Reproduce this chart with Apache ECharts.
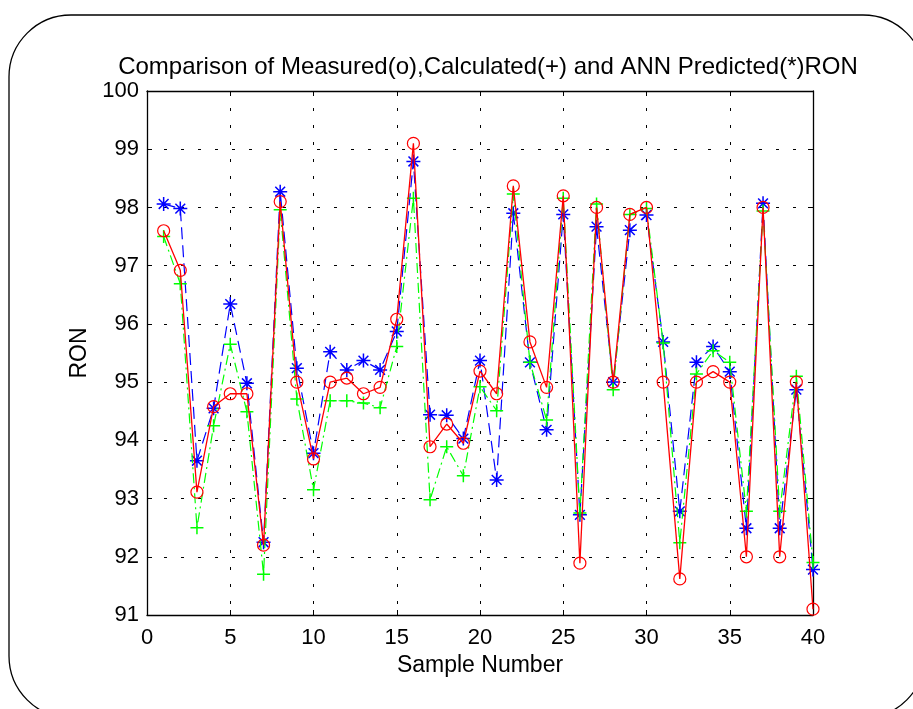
<!DOCTYPE html>
<html>
<head>
<meta charset="utf-8">
<script src="https://cdn.jsdelivr.net/npm/echarts@6/dist/echarts.min.js"></script>
<style>
html,body{margin:0;padding:0;background:#fff;}
#chart{width:913px;height:709px;}
</style>
</head>
<body>
<div id="chart"></div>
<script>
const sampleNumbers = [1,2,3,4,5,6,7,8,9,10,11,12,13,14,15,16,17,18,19,20,21,22,23,24,25,26,27,28,29,30,31,32,33,34,35,36,37,38,39,40];
const measured = [97.6,96.92,93.11,94.58,94.8,94.8,92.2,98.1,95.0,93.68,95.0,95.07,94.8,94.91,96.08,99.1,93.89,94.28,93.95,95.19,94.8,98.37,95.69,94.91,98.2,91.89,98.0,95.0,97.88,98.0,95.0,91.62,95.0,95.18,95.0,92.0,98.0,92.0,95.0,91.1];
const calculated = [97.5,96.69,92.5,94.25,95.65,94.49,91.7,97.96,94.71,93.15,94.68,94.68,94.64,94.56,95.61,98.16,92.98,93.89,93.39,94.92,94.51,98.23,95.34,94.35,98.16,92.75,98.06,94.87,97.88,97.98,95.67,92.24,95.14,95.54,95.34,92.78,97.94,92.78,95.1,91.9];
const annPredicted = [98.06,97.98,93.65,94.55,96.34,94.98,92.25,98.27,95.24,93.78,95.52,95.21,95.37,95.21,95.87,98.79,94.44,94.43,94.03,95.37,93.32,97.9,95.34,94.18,97.88,92.72,97.67,95.0,97.61,97.87,95.69,92.78,95.34,95.61,95.18,92.49,98.07,92.49,94.87,91.78];
const xTicks = {min:0, max:40, interval:5};
const yTicks = {min:91, max:100, interval:1};
const titleText = 'Comparison of Measured(o),Calculated(+) and ANN Predicted(*)RON';

const pairs = arr => sampleNumbers.map((x,i)=>[x,arr[i]]);
const FONT = 'Liberation Sans, Arial, sans-serif';
const plusPath = 'path://M0,-10L0,10M-10,0L10,0';
const starPath = 'path://M0,-10L0,10M-10,0L10,0M-7,-7L7,7M-7,7L7,-7';

const chart = echarts.init(document.getElementById('chart'), null, {renderer:'canvas'});
const gridLine = {show:true, lineStyle:{color:'#000', type:[3,14], width:1}};
chart.setOption({
  animation:false,
  backgroundColor:'#fff',
  title:{text:titleText, left:483, top:50, textAlign:'center',
    textStyle:{fontFamily:FONT, fontSize:24, fontWeight:'normal', color:'#000'}},
  graphic:[{type:'rect', shape:{x:9, y:15, width:916, height:703, r:62},
    style:{fill:'none', stroke:'#000', lineWidth:1.3}, silent:true, z:-1}],
  grid:{left:147, top:91, width:666, height:524, containLabel:false},
  xAxis:[{type:'value', min:xTicks.min, max:xTicks.max, interval:xTicks.interval,
    name:'Sample Number', nameLocation:'middle', nameGap:35,
    nameTextStyle:{fontFamily:FONT, fontSize:23, color:'#000'},
    axisLine:{onZero:false, lineStyle:{color:'#000', width:1.3}},
    axisTick:{inside:true, length:5, lineStyle:{color:'#000'}},
    axisLabel:{fontFamily:FONT, fontSize:22, color:'#000', margin:12},
    splitLine:gridLine},
   {type:'value', position:'top', min:xTicks.min, max:xTicks.max, interval:xTicks.interval,
    axisLine:{onZero:false, lineStyle:{color:'#000', width:1.3}},
    axisTick:{inside:true, length:5, lineStyle:{color:'#000'}},
    axisLabel:{show:false}, splitLine:{show:false}}],
  yAxis:[{type:'value', min:yTicks.min, max:yTicks.max, interval:yTicks.interval,
    name:'RON', nameLocation:'middle', nameGap:44, nameRotate:90,
    nameTextStyle:{fontFamily:FONT, fontSize:23, color:'#000'},
    axisLine:{show:true, onZero:false, lineStyle:{color:'#000', width:1.3}},
    axisTick:{show:true, inside:true, length:5, lineStyle:{color:'#000'}},
    axisLabel:{fontFamily:FONT, fontSize:22, color:'#000', margin:8},
    splitLine:gridLine},
   {type:'value', position:'right', min:yTicks.min, max:yTicks.max, interval:yTicks.interval,
    axisLine:{show:true, onZero:false, lineStyle:{color:'#000', width:1.3}},
    axisTick:{show:true, inside:true, length:5, lineStyle:{color:'#000'}},
    axisLabel:{show:false}, splitLine:{show:false}}],
  series:[
    {name:'ANN Predicted', type:'line', data:pairs(annPredicted), symbol:starPath, symbolSize:14,
      showAllSymbol:true,
      lineStyle:{color:'#0000ff', width:1.2, type:[12,6]},
      itemStyle:{color:'none', borderColor:'#0000ff', borderWidth:1.5}, z:2},
    {name:'Calculated', type:'line', data:pairs(calculated), symbol:plusPath, symbolSize:13,
      showAllSymbol:true,
      lineStyle:{color:'#00ff00', width:1.2, type:[10,4,2,4]},
      itemStyle:{color:'none', borderColor:'#00ff00', borderWidth:1.5}, z:3},
    {name:'Measured', type:'line', data:pairs(measured), symbol:'circle', symbolSize:12,
      showAllSymbol:true,
      lineStyle:{color:'#ff0000', width:1.3},
      itemStyle:{color:'none', borderColor:'#ff0000', borderWidth:1.2}, z:4}
  ]
});
</script>
</body>
</html>
